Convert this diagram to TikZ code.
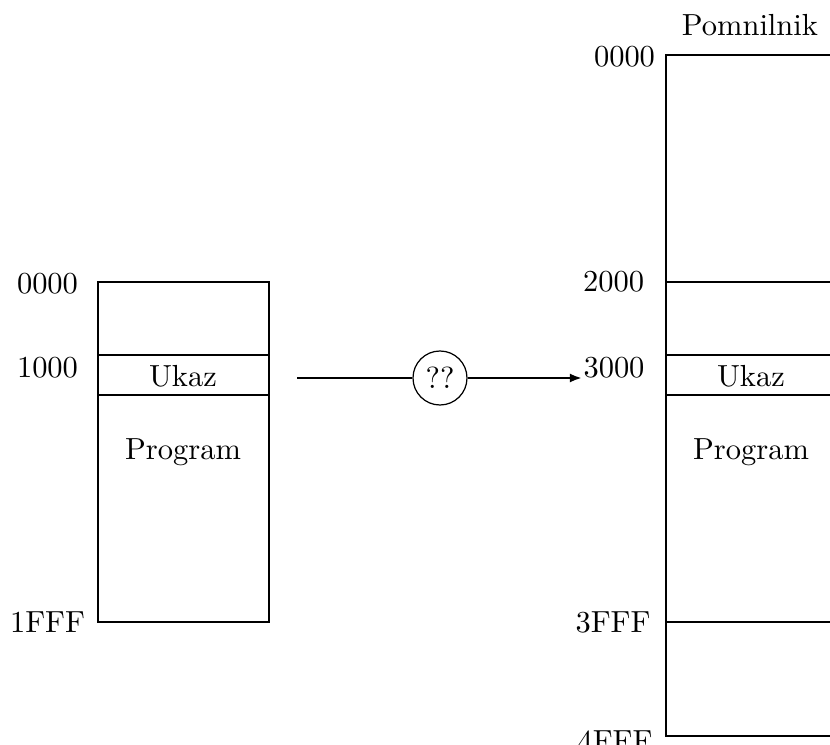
\documentclass[tikz,border=0pt]{standalone}
\usetikzlibrary{arrows.meta}
\begin{document}
\begin{tikzpicture}[x=0.3279pt,y=-0.3279pt,
  mem/.style={line width=0.8pt},
  addr/.style={anchor=base,inner sep=0pt},
  cell/.style={anchor=base,inner sep=0pt},
  link/.style={line width=0.8pt},
  ring/.style={circle,draw,line width=0.4pt,minimum size=54*0.3279pt,inner sep=0pt}]
\clip (0,0) rectangle (830,745);

% left memory image
\draw[mem] (98,282) rectangle (269,622);
\draw[mem] (98,355) -- (269,355);
\draw[mem] (98,395) -- (269,395);
\node[cell] (lukaz) at (183,387) {Ukaz};
\node[cell] (lprog) at (183,459) {Program};
\node[addr] (l0000) at (47.5,293) {0000};
\node[addr] (l1000) at (47.5,378) {1000};
\node[addr] (l1fff) at (47.5,633) {1FFF};

% right memory
\draw[mem] (836,55) -- (666,55) -- (666,736) -- (836,736);
\foreach \yy in {282,355,395,622} \draw[mem] (666,\yy) -- (836,\yy);
\node[addr] (title) at (750,36) {Pomnilnik};
\node[cell] (rukaz) at (751,387) {Ukaz};
\node[cell] (rprog) at (751,459) {Program};
\node[addr] (r0000) at (624.5,66) {0000};
\node[addr] (r2000) at (613.5,292) {2000};
\node[addr] (r3000) at (614,377) {3000};
\node[addr] (r3fff) at (613,633) {3FFF};
\node[addr] (r4fff) at (615,751) {4FFF};

% mapping
\coordinate (from) at (297,378);
\coordinate (to) at (582,378);
\node[ring] (map) at (440,378) {??};
\draw[link] (from) -- (map.west);
\draw[link,-{Latex[length=4pt,width=3pt]}] (map.east) -- (to);
\end{tikzpicture}
\end{document}
